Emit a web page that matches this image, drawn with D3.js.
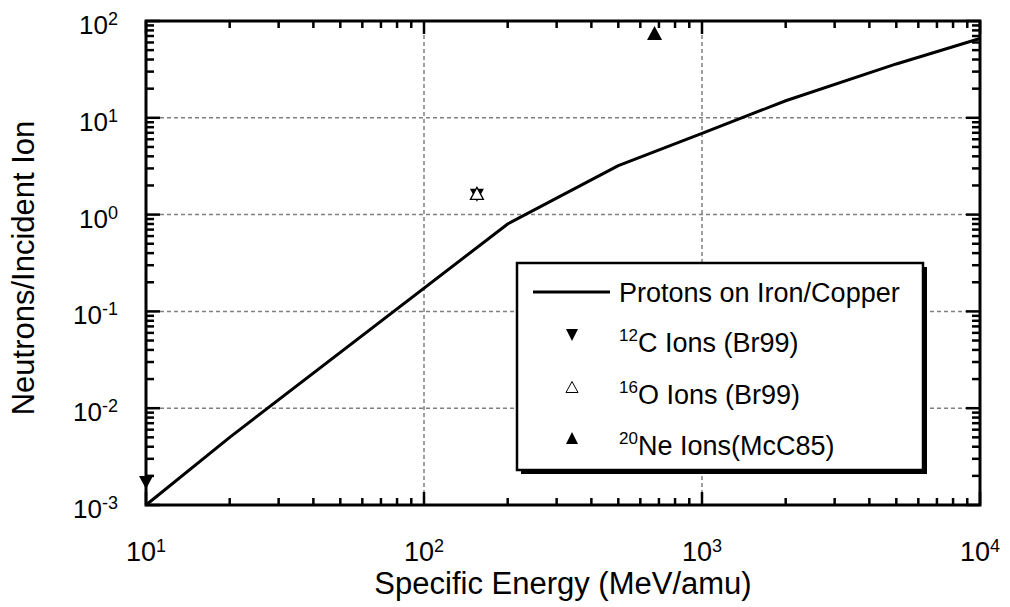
<!DOCTYPE html>
<html><head><meta charset="utf-8">
<script src="https://cdn.jsdelivr.net/npm/d3@7"></script>
<style>body{margin:0;background:#fff}svg{display:block}text{font-family:"Liberation Sans",Arial,sans-serif;fill:#000}</style>
</head><body><svg id="c" width="1010" height="607"></svg>
<script>
// Data
const protonEnergy = [10, 20, 200, 500, 1000, 2000, 5000, 10000];
const protonYield  = [0.001, 0.005, 0.8, 3.2, 6.9, 15, 36, 66];
const c12Energy = [10, 155];
const c12Yield  = [0.00175, 1.62];
const o16Energy = [155];
const o16Yield  = [1.62];
const ne20Energy = [675];
const ne20Yield  = [75];
const xTickExps = [1, 2, 3, 4];
const yTickExps = [-3, -2, -1, 0, 1, 2];
const legendLabels = [
  {sup: "", main: "Protons on Iron/Copper"},
  {sup: "12", main: "C Ions (Br99)"},
  {sup: "16", main: "O Ions (Br99)"},
  {sup: "20", main: "Ne Ions(McC85)"}
];
const xTitle = "Specific Energy (MeV/amu)";
const yTitle = "Neutrons/Incident Ion";

const svg = d3.select("#c");
const L = 146, R = 980, T = 21, B = 505;
const x = d3.scaleLog().domain([10, 1e4]).range([L, R]);
const y = d3.scaleLog().domain([1e-3, 1e2]).range([B, T]);

// gridlines
const g = svg.append("g");
g.selectAll(".gx").data(xTickExps.slice(1, -1)).enter().append("line")
  .attr("x1", d => x(Math.pow(10, d))).attr("x2", d => x(Math.pow(10, d)))
  .attr("y1", T).attr("y2", B)
  .attr("stroke", "#808080").attr("stroke-width", 1.5).attr("stroke-dasharray", "4,3");
g.selectAll(".gy").data(yTickExps.slice(1, -1)).enter().append("line")
  .attr("y1", d => y(Math.pow(10, d))).attr("y2", d => y(Math.pow(10, d)))
  .attr("x1", L).attr("x2", R)
  .attr("stroke", "#808080").attr("stroke-width", 1.5).attr("stroke-dasharray", "4,3");

// ticks (inside, all four sides)
function minorVals(dom) {
  const out = [];
  for (let e = Math.log10(dom[0]); e < Math.log10(dom[1]); e++)
    for (let k = 2; k <= 9; k++) out.push(k * Math.pow(10, e));
  return out;
}
const xMinor = minorVals(x.domain()), yMinor = minorVals(y.domain());
const xMajor = xTickExps.map(e => Math.pow(10, e)), yMajor = yTickExps.map(e => Math.pow(10, e));
const tk = svg.append("g").attr("stroke", "#000").attr("stroke-width", 2.5);
[[xMinor, 7], [xMajor, 13]].forEach(([vals, len]) => {
  vals.forEach(v => {
    tk.append("line").attr("x1", x(v)).attr("x2", x(v)).attr("y1", B).attr("y2", B - len);
    tk.append("line").attr("x1", x(v)).attr("x2", x(v)).attr("y1", T).attr("y2", T + len);
  });
});
[[yMinor, 8], [yMajor, 14]].forEach(([vals, len]) => {
  vals.forEach(v => {
    tk.append("line").attr("y1", y(v)).attr("y2", y(v)).attr("x1", L).attr("x2", L + len);
    tk.append("line").attr("y1", y(v)).attr("y2", y(v)).attr("x1", R).attr("x2", R - len);
  });
});

// frame
svg.append("rect").attr("x", L).attr("y", T).attr("width", R - L).attr("height", B - T)
  .attr("fill", "none").attr("stroke", "#000").attr("stroke-width", 3);

// tick labels
function powLabel(sel, e) {
  sel.append("tspan").text("10");
  sel.append("tspan").attr("font-size", 18).attr("dy", -9).text(e);
}
xTickExps.forEach(e => {
  const t = svg.append("text").attr("x", x(Math.pow(10, e))).attr("y", 561)
    .attr("font-size", 27).attr("text-anchor", "middle");
  powLabel(t, e);
});
yTickExps.forEach(e => {
  const t = svg.append("text").attr("x", 118).attr("y", y(Math.pow(10, e)) + 13)
    .attr("font-size", 26).attr("text-anchor", "end");
  powLabel(t, e);
});

// axis titles
svg.append("text").attr("x", (L + R) / 2).attr("y", 594).attr("font-size", 31)
  .attr("text-anchor", "middle").text(xTitle);
svg.append("text").attr("transform", `translate(34,${(T + B) / 2 + 5}) rotate(-90)`).attr("font-size", 31)
  .attr("text-anchor", "middle").text(yTitle);

// line
const line = d3.line().x(d => x(d[0])).y(d => y(d[1]));
svg.append("path").datum(protonEnergy.map((e, i) => [e, protonYield[i]]))
  .attr("d", line).attr("fill", "none").attr("stroke", "#000").attr("stroke-width", 3)
  .attr("stroke-linejoin", "round");

// markers
function tri(cx, cy, w, h, up) {
  return up ? `M${cx},${cy - h / 2}L${cx + w / 2},${cy + h / 2}L${cx - w / 2},${cy + h / 2}Z`
            : `M${cx},${cy + h / 2}L${cx + w / 2},${cy - h / 2}L${cx - w / 2},${cy - h / 2}Z`;
}
c12Energy.forEach((e, i) => {
  svg.append("path").attr("d", tri(x(e), y(c12Yield[i]) + 1, 14, 13, false)).attr("fill", "#000");
});
o16Energy.forEach((e, i) => {
  svg.append("path").attr("d", tri(x(e), y(o16Yield[i]) - 1, 13, 12, true))
    .attr("fill", "#fff").attr("stroke", "#000").attr("stroke-width", 1.3);
});
ne20Energy.forEach((e, i) => {
  svg.append("path").attr("d", tri(x(e), y(ne20Yield[i]), 15, 14, true)).attr("fill", "#000");
});

// legend
const lg = svg.append("g");
lg.append("rect").attr("x", 521).attr("y", 267).attr("width", 406).attr("height", 207).attr("fill", "#000");
lg.append("rect").attr("x", 517).attr("y", 263).attr("width", 406).attr("height", 207)
  .attr("fill", "#fff").attr("stroke", "#000").attr("stroke-width", 2.5);
lg.append("line").attr("x1", 533).attr("x2", 610).attr("y1", 292).attr("y2", 292)
  .attr("stroke", "#000").attr("stroke-width", 3);
lg.append("path").attr("d", tri(572, 335, 12, 12, false)).attr("fill", "#000");
lg.append("path").attr("d", tri(572, 387, 12, 11, true)).attr("fill", "#fff").attr("stroke", "#000").attr("stroke-width", 1);
lg.append("path").attr("d", tri(572, 438, 12, 12, true)).attr("fill", "#000");
const rowsY = [302, 352, 404, 455];
legendLabels.forEach((d, i) => {
  const t = lg.append("text").attr("x", 619).attr("y", rowsY[i]).attr("font-size", 27);
  if (d.sup) {
    t.append("tspan").attr("font-size", 17).attr("dy", -11).text(d.sup);
    t.append("tspan").attr("dy", 11).text(d.main);
  } else t.text(d.main);
});
</script></body></html>
